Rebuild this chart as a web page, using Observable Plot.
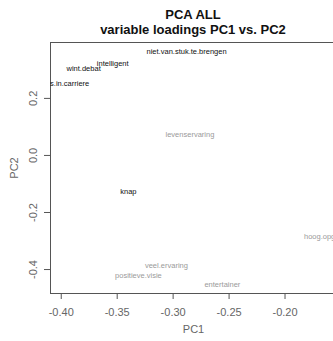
<!DOCTYPE html>
<html>
<head>
<meta charset="utf-8">
<script src="https://cdn.jsdelivr.net/npm/d3@7"></script>
<script src="https://cdn.jsdelivr.net/npm/@observablehq/plot@0.6"></script>
<style>
  html, body { margin: 0; padding: 0; background: #fff; overflow: hidden; width: 333px; height: 341px; }
  #wrap { position: relative; width: 336px; height: 341px; }
  #title { position: absolute; left: 50px; width: 286px; top: 7px; text-align: center;
           font: bold 13px "Liberation Sans", Arial, sans-serif; line-height: 15px; color: #111; }
  #chart { position: absolute; left: 0; top: 0; }
</style>
</head>
<body>
<div id="wrap">
  <div id="chart"></div>
  <div id="title">PCA ALL<br>variable loadings PC1 vs. PC2</div>
</div>
<script>
// variable names, loadings and label group
const labels = ["niet.van.stuk.te.brengen", "intelligent", "wint.debat", "succes.in.carriere", "knap",
                "levenservaring", "veel.ervaring", "positieve.visie", "entertainer", "hoog.opgeleid"];
const pc1 = [-0.288, -0.354, -0.380, -0.4012, -0.340, -0.285, -0.306, -0.331, -0.256, -0.162];
const pc2 = [0.365, 0.323, 0.305, 0.253, -0.126, 0.074, -0.386, -0.421, -0.453, -0.284];
const group = ["a", "a", "a", "a", "a", "b", "b", "b", "b", "b"];
const xTicks = [-0.40, -0.35, -0.30, -0.25, -0.20];
const yTicks = [-0.4, -0.2, 0.0, 0.2];

const data = labels.map((l, i) => ({label: l, pc1: pc1[i], pc2: pc2[i], group: group[i]}));
const font = "'Liberation Sans', Arial, sans-serif";

const chart = Plot.plot({
  width: 336,
  height: 341,
  marginTop: 42,
  marginBottom: 48,
  marginLeft: 50,
  marginRight: 0,
  style: {fontFamily: font, background: "transparent", color: "#666"},
  x: {domain: [-0.4096, -0.154]},
  y: {domain: [-0.484, 0.396]},
  marks: [
    Plot.frame({stroke: "#555", strokeWidth: 1}),
    Plot.axisX({ticks: xTicks, tickFormat: d => d.toFixed(2), tickSize: 6, tickPadding: 9,
                fontSize: 11, stroke: "#555", fill: "#666",
                label: "PC1", labelAnchor: "center", labelOffset: 39, labelArrow: "none"}),
    Plot.axisY({ticks: yTicks, tickFormat: d => d.toFixed(1), tickSize: 6, tickPadding: 8,
                tickRotate: -90, fontSize: 11, stroke: "#555", fill: "#666",
                label: "PC2", labelAnchor: "center", labelOffset: 40, labelArrow: "none"}),
    Plot.text(data, {x: "pc1", y: "pc2", text: "label",
                     fill: d => d.group === "a" ? "#111" : "#9a9a9a",
                     fontSize: 7.5, clip: true})
  ]
});
document.getElementById("chart").appendChild(chart);
</script>
</body>
</html>
